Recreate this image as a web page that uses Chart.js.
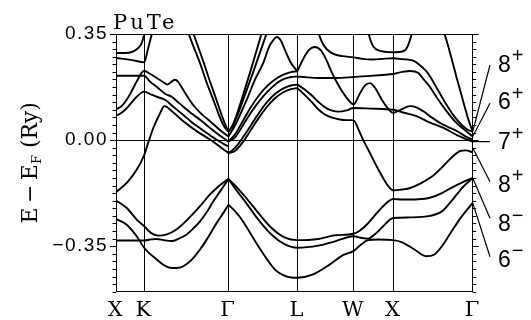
<!DOCTYPE html>
<html>
<head>
<meta charset="utf-8">
<script src="https://cdn.jsdelivr.net/npm/chart.js@4.4.1/dist/chart.umd.min.js"></script>
<style>
  html, body { margin: 0; padding: 0; background: #fff; }
  #wrap { width: 531px; height: 320px; }
</style>
</head>
<body>
<div id="wrap"><canvas id="bands" width="531" height="320"></canvas></div>
<script>
// high-symmetry path (k in units of 2pi/a)
const kLabels = ['X', 'K', '\u0393', 'L', 'W', 'X', '\u0393'];
const kPoints = [0, 0.354, 1.414, 2.280, 2.987, 3.487, 4.487];

// energy axis (Ry)
const yMin = -0.5, yMax = 0.35, yStep = 0.025;
const yMajor = [0.35, 0, -0.35];
const yMajorText = ['0.35', '0.00', '\u22120.35'];

// states at Gamma (right edge) and their labels
const gammaDigits = ['8', '6', '7', '8', '8', '6'];
const gammaSigns = ['+', '+', '+', '+', '\u2212', '\u2212'];
const gammaE = [0.028, 0.012, -0.005, -0.025, -0.125, -0.207];

// bands, [k, E] pairs
// X - K - Gamma, above Ef
const bandA = [[0,0.287],[0.18,0.289],[0.28,0.304],[0.323,0.32],[0.348,0.342],[0.37,0.38]];
const bandB = [[0,0.271],[0.2,0.264],[0.354,0.257],[0.40,0.298],[0.46,0.36]];
const bandC = [[0,0.102],[0.07,0.112],[0.134,0.133],[0.2,0.163],[0.26,0.193],[0.354,0.229],[0.43,0.218],[0.512,0.205],[0.6,0.19],[0.646,0.183],[0.7,0.193],[0.742,0.199],[0.78,0.193],[0.826,0.174],[0.9,0.143],[0.973,0.115],[1.08,0.085],[1.182,0.0625],[1.3,0.035],[1.414,0.012]];
const bandF = [[0,0.2125],[0.354,0.2125],[0.43,0.192],[0.512,0.176],[0.616,0.153],[0.70,0.143],[0.76,0.13],[0.847,0.11],[0.95,0.088],[1.057,0.067],[1.16,0.045],[1.267,0.023],[1.414,-0.005]];
const bandD = [[0,0.080],[0.07,0.09],[0.134,0.105],[0.2,0.125],[0.26,0.143],[0.354,0.16],[0.43,0.152],[0.512,0.143],[0.616,0.133],[0.721,0.11],[0.847,0.083],[0.95,0.06],[1.057,0.039],[1.16,0.02],[1.267,0.001],[1.414,-0.021]];
const bandR = [[0,-0.172],[0.135,-0.141],[0.26,-0.098],[0.354,-0.05],[0.41,-0.005],[0.469,0.04],[0.553,0.088],[0.61,0.112],[0.7,0.096],[0.847,0.0625],[1.015,0.0296],[1.182,0.002],[1.3,-0.02],[1.414,-0.043]];
const vLeft1 = [[0.9,0.36],[0.98,0.305],[1.057,0.254],[1.14,0.19],[1.224,0.133],[1.3,0.08],[1.36,0.045],[1.414,0.028]];
const vLeft2 = [[0.962,0.36],[1.03,0.31],[1.1,0.258],[1.18,0.195],[1.26,0.135],[1.33,0.082],[1.38,0.048],[1.414,0.028]];
// Gamma - L - W - X - Gamma, above Ef
const vRight1 = [[1.414,0.028],[1.46,0.045],[1.52,0.085],[1.6,0.15],[1.7,0.235],[1.84,0.36]];
const vRight2 = [[1.414,0.028],[1.47,0.048],[1.54,0.09],[1.63,0.155],[1.74,0.235],[1.905,0.36]];
const peakGL = [[1.414,0.012],[1.5,0.05],[1.644,0.133],[1.75,0.2],[1.853,0.255],[1.93,0.31],[1.979,0.33],[2.021,0.34],[2.07,0.33],[2.126,0.297],[2.2,0.255],[2.28,0.227]];
const bundle1 = [[1.414,-0.005],[1.5,0.02],[1.6,0.065],[1.7,0.11],[1.8,0.148],[1.9,0.178],[2.0,0.2],[2.1,0.215],[2.2,0.224],[2.28,0.227]];
const bundle2 = [[1.414,-0.005],[1.5,0.01],[1.6,0.05],[1.7,0.092],[1.8,0.128],[1.9,0.158],[2.0,0.183],[2.1,0.2],[2.2,0.208],[2.28,0.21]];
const bundle3 = [[1.414,-0.043],[1.5,-0.025],[1.6,0.01],[1.7,0.05],[1.8,0.09],[1.9,0.125],[2.0,0.152],[2.1,0.17],[2.2,0.18],[2.28,0.183]];
const bundle4 = [[1.414,-0.043],[1.5,-0.035],[1.6,-0.005],[1.7,0.035],[1.8,0.075],[1.9,0.11],[2.0,0.138],[2.1,0.157],[2.2,0.168],[2.28,0.172]];
const bumpLWX = [[2.28,0.227],[2.35,0.265],[2.42,0.295],[2.5,0.307],[2.58,0.295],[2.65,0.262],[2.72,0.22],[2.8,0.18],[2.9,0.14],[2.987,0.118],[3.07,0.155],[3.13,0.18],[3.195,0.188],[3.26,0.172],[3.34,0.135],[3.42,0.105],[3.487,0.09],[3.57,0.099],[3.7,0.112],[3.78,0.108],[3.866,0.095],[3.97,0.075],[4.075,0.057],[4.18,0.043],[4.286,0.03],[4.4,0.012],[4.487,0.002]];
const flatLWX = [[2.28,0.21],[2.4,0.207],[2.55,0.205],[2.75,0.205],[2.987,0.208],[3.2,0.212],[3.35,0.215],[3.487,0.218],[3.6,0.225],[3.7,0.228],[3.8,0.222],[3.87,0.2],[3.95,0.175],[4.05,0.135],[4.16,0.095],[4.27,0.06],[4.37,0.037],[4.487,0.012]];
const topLWX = [[2.54,0.36],[2.58,0.33],[2.62,0.31],[2.68,0.293],[2.75,0.283],[2.85,0.277],[2.987,0.273],[3.1,0.268],[3.237,0.266],[3.35,0.268],[3.487,0.27],[3.6,0.267],[3.74,0.262],[3.82,0.248],[3.9,0.228],[3.95,0.21],[4.05,0.165],[4.15,0.12],[4.25,0.08],[4.35,0.05],[4.42,0.035],[4.487,0.028]];
const cupX = [[3.17,0.36],[3.2,0.33],[3.237,0.309],[3.3,0.296],[3.487,0.29],[3.614,0.293],[3.67,0.31],[3.72,0.35],[3.73,0.36]];
const steepXG = [[4.12,0.362],[4.2,0.29],[4.286,0.205],[4.36,0.135],[4.43,0.07],[4.487,0.028]];
const lineLWG = [[2.28,0.183],[2.37,0.168],[2.46,0.148],[2.55,0.125],[2.63,0.108],[2.72,0.097],[2.8,0.094],[2.9,0.098],[2.987,0.106],[3.2,0.104],[3.487,0.1],[3.6,0.092],[3.78,0.079],[3.95,0.058],[4.12,0.04],[4.3,0.015],[4.487,-0.005]];
const diveWX = [[2.28,0.172],[2.37,0.15],[2.46,0.126],[2.55,0.1],[2.63,0.084],[2.72,0.074],[2.8,0.069],[2.9,0.066],[2.987,0.066],[3.05,0.035],[3.11,0.0],[3.17,-0.03],[3.237,-0.065],[3.3,-0.097],[3.36,-0.125],[3.42,-0.15],[3.487,-0.166],[3.6,-0.163],[3.7,-0.158],[3.85,-0.14],[4.0,-0.115],[4.1,-0.09],[4.18,-0.068],[4.26,-0.048],[4.33,-0.036],[4.4,-0.034],[4.487,-0.04]];
// below Ef
const band2 = [[0,-0.199],[0.135,-0.224],[0.26,-0.262],[0.354,-0.284],[0.44,-0.306],[0.53,-0.315],[0.64,-0.311],[0.76,-0.295],[0.9,-0.262],[1.057,-0.218],[1.18,-0.18],[1.267,-0.158],[1.35,-0.14],[1.414,-0.128]];
const band3 = [[0,-0.26],[0.135,-0.279],[0.26,-0.317],[0.354,-0.355],[0.512,-0.394],[0.6,-0.412],[0.679,-0.421],[0.76,-0.422],[0.847,-0.416],[0.95,-0.395],[1.057,-0.361],[1.16,-0.32],[1.267,-0.273],[1.35,-0.24],[1.414,-0.213]];
const band4 = [[0,-0.331],[0.354,-0.331],[0.43,-0.328],[0.512,-0.326],[0.6,-0.33],[0.7,-0.333],[0.79,-0.325],[0.889,-0.311],[0.97,-0.292],[1.057,-0.268],[1.14,-0.238],[1.224,-0.202],[1.32,-0.165],[1.414,-0.128]];
const lowB = [[1.414,-0.128],[1.5,-0.15],[1.623,-0.186],[1.79,-0.24],[1.958,-0.29],[2.126,-0.322],[2.28,-0.33],[2.545,-0.326],[2.755,-0.314],[2.987,-0.309],[3.07,-0.298],[3.15,-0.28],[3.25,-0.25],[3.36,-0.218],[3.487,-0.194],[3.6,-0.196],[3.8,-0.195],[3.95,-0.19],[4.1,-0.175],[4.2,-0.16],[4.35,-0.14],[4.487,-0.125]];
const lowC = [[1.414,-0.128],[1.5,-0.16],[1.623,-0.202],[1.79,-0.262],[1.958,-0.312],[2.126,-0.344],[2.28,-0.355],[2.545,-0.348],[2.755,-0.334],[2.987,-0.317],[3.08,-0.322],[3.17,-0.325],[3.26,-0.31],[3.36,-0.284],[3.487,-0.257],[3.7,-0.255],[3.95,-0.25],[4.1,-0.235],[4.2,-0.207],[4.3,-0.175],[4.37,-0.153],[4.487,-0.125]];
const lowD = [[1.414,-0.213],[1.5,-0.235],[1.581,-0.262],[1.79,-0.35],[2.0,-0.427],[2.15,-0.45],[2.28,-0.454],[2.48,-0.443],[2.69,-0.41],[2.85,-0.38],[2.987,-0.366],[3.08,-0.345],[3.17,-0.33],[3.3,-0.328],[3.487,-0.33],[3.6,-0.337],[3.75,-0.36],[3.9,-0.383],[4.0,-0.378],[4.1,-0.35],[4.2,-0.31],[4.34,-0.255],[4.487,-0.207]];

const allBands = [bandA, bandB, bandC, bandF, bandD, bandR, vLeft1, vLeft2,
  vRight1, vRight2, peakGL, bundle1, bundle2, bundle3, bundle4,
  bumpLWX, flatLWX, topLWX, cupX, steepXG, lineLWG, diveWX,
  band2, band3, band4, lowB, lowC, lowD];

// minor tick values on the energy axis
const yTicks = [];
for (let i = 0; i <= Math.round((yMax - yMin) / yStep); i++) yTicks.push(+(yMin + i * yStep).toFixed(3));

const majorIdx = v => yMajor.findIndex(m => Math.abs(m - v) < 1e-6);

const SERIF = "'DejaVu Serif', serif";
const SANS = "'Liberation Sans', Arial, sans-serif";

// layout in pixels
const labelX = 498, pointerEndX = 490;
const labelMidY = [63.3, 101, 141, 183.3, 223, 258.3];
const pointerEndY = [65, 103.3, 141.7, 181.7, 218.3, 256.7];

const decor = {
  id: 'decor',
  beforeDraw(chart) {
    const ctx = chart.ctx;
    ctx.save();
    ctx.fillStyle = '#fff';
    ctx.fillRect(0, 0, chart.width, chart.height);
    ctx.restore();
    ctx.letterSpacing = '1.5px';
  },
  beforeDatasetsDraw(chart) {
    chart.ctx.letterSpacing = '0px';
  },
  afterDraw(chart) {
    const { ctx, chartArea: a, scales: { x, y } } = chart;
    ctx.save();
    ctx.strokeStyle = '#000';
    ctx.fillStyle = '#000';
    ctx.lineWidth = 1;

    // tick marks, outward on both sides
    ctx.beginPath();
    yTicks.forEach(v => {
      const py = Math.round(y.getPixelForValue(v)) + 0.5;
      const len = majorIdx(v) >= 0 ? 6 : 3.5;
      ctx.moveTo(a.left - len, py); ctx.lineTo(a.left, py);
      ctx.moveTo(a.right, py); ctx.lineTo(a.right + len, py);
    });
    ctx.stroke();

    // title
    ctx.letterSpacing = '3px';
    ctx.font = `21px ${SERIF}`;
    ctx.textBaseline = 'alphabetic';
    ctx.textAlign = 'left';
    ctx.fillText('PuTe', 113, 29.3);
    ctx.letterSpacing = '0px';

    // y axis title E - E_F (Ry)
    ctx.save();
    ctx.translate(37, (a.top + a.bottom) / 2);
    ctx.rotate(-Math.PI / 2);
    const parts = [
      ['E\u2009', 22, 0], ['\u2212', 22, 0], ['\u2009E', 22, 0], ['F', 13, 4], [' (Ry)', 22, 0]
    ];
    let total = 0;
    parts.forEach(p => { ctx.font = `${p[1]}px ${SERIF}`; total += ctx.measureText(p[0]).width; });
    let tx = -total / 2;
    parts.forEach(p => {
      ctx.font = `${p[1]}px ${SERIF}`;
      ctx.fillText(p[0], tx, p[2]);
      tx += ctx.measureText(p[0]).width;
    });
    ctx.restore();

    // labels of the states at Gamma
    ctx.lineWidth = 1.2;
    const gx = x.getPixelForValue(kPoints[kPoints.length - 1]);
    gammaE.forEach((e, i) => {
      ctx.beginPath();
      ctx.moveTo(gx, y.getPixelForValue(e));
      ctx.lineTo(pointerEndX, pointerEndY[i]);
      ctx.stroke();
      ctx.font = `23px ${SANS}`;
      ctx.fillText(gammaDigits[i], labelX, labelMidY[i] + 8.3);
      const w = ctx.measureText(gammaDigits[i]).width;
      ctx.font = `20px ${SANS}`;
      ctx.fillText(gammaSigns[i], labelX + w + 1, labelMidY[i] - 1);
    });
    ctx.restore();
  }
};

const datasets = allBands.map(b => ({
  data: b.map(p => ({ x: p[0], y: p[1] })),
  borderColor: '#000',
  borderWidth: 1.9,
  pointRadius: 0,
  fill: false,
  cubicInterpolationMode: 'monotone',
  clip: 0
}));

new Chart(document.getElementById('bands'), {
  type: 'line',
  data: { datasets },
  options: {
    responsive: false,
    animation: false,
    devicePixelRatio: 1,
    layout: { padding: { left: 0, right: 58.3, top: 34, bottom: 0 } },
    plugins: { legend: { display: false }, tooltip: { enabled: false } },
    scales: {
      x: {
        type: 'linear',
        min: kPoints[0],
        max: kPoints[kPoints.length - 1],
        afterBuildTicks: axis => { axis.ticks = kPoints.map(v => ({ value: v })); },
        afterFit: s => { s.height = 28.3; },
        grid: { color: '#000', lineWidth: 1, drawTicks: false },
        border: { color: '#000', width: 1 },
        ticks: {
          autoSkip: false, maxRotation: 0, padding: 6, color: '#000',
          font: { family: SERIF, size: 21 },
          callback: (v, i) => kLabels[i]
        }
      },
      y: {
        type: 'linear',
        min: yMin,
        max: yMax,
        afterBuildTicks: axis => { axis.ticks = yTicks.map(v => ({ value: v })); },
        afterFit: s => { s.width = 116; },
        grid: {
          drawTicks: false, lineWidth: 1,
          color: c => (Math.abs(c.tick.value) < 1e-6 || Math.abs(c.tick.value - yMax) < 1e-6) ? '#000' : 'rgba(0,0,0,0)'
        },
        border: { color: '#000', width: 1 },
        ticks: {
          autoSkip: false, padding: 8, color: '#000',
          font: { family: SANS, size: 19 },
          callback: v => { const i = majorIdx(v); return i >= 0 ? yMajorText[i] : ''; }
        }
      }
    }
  },
  plugins: [decor]
});
</script>
</body>
</html>
